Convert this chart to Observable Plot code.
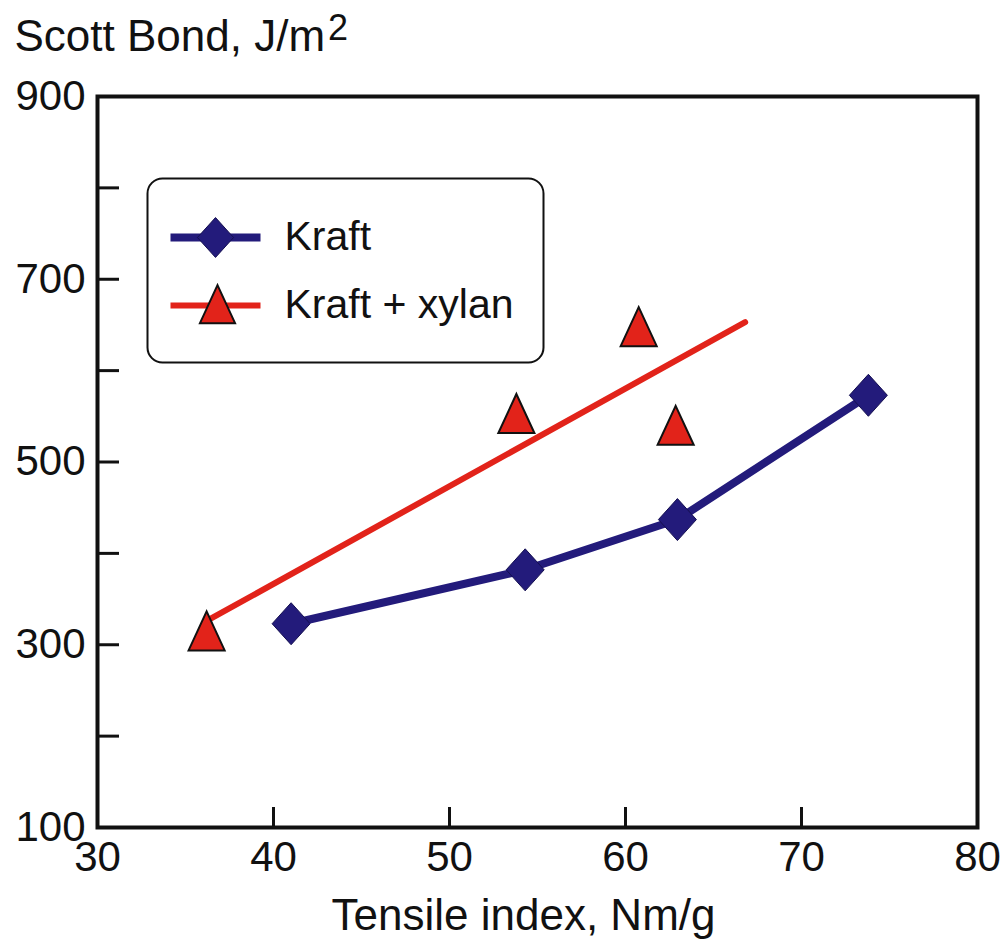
<!DOCTYPE html>
<html>
<head>
<meta charset="utf-8">
<script src="https://cdn.jsdelivr.net/npm/d3@7"></script>
<script src="https://cdn.jsdelivr.net/npm/@observablehq/plot@0.6"></script>
<style>
  html, body { margin: 0; padding: 0; background: #fff; }
  #chart svg { display: block; }
</style>
</head>
<body>
<div id="chart"></div>
<script>
// ---- data ----
const kraftTensile = [41.0, 54.3, 62.95, 73.8];
const kraftBond = [323, 382, 437, 573];
const xylanTensile = [36.2, 53.8, 60.75, 62.85];
const xylanBond = [308, 546, 641, 533];
const xylanFitTensile = [36.2, 66.8];
const xylanFitBond = [326, 653];
const xTicks = [30, 40, 50, 60, 70, 80];
const yTickMarks = [200, 300, 400, 500, 600, 700, 800];
const yTickLabels = [100, 300, 500, 700, 900];
const seriesNames = ["Kraft", "Kraft + xylan"];
const xTitle = "Tensile index, Nm/g";
const yTitle = "Scott Bond, J/m";
const yTitleSup = "2";

const kraft = kraftTensile.map((x, i) => ({x, y: kraftBond[i]}));
const xylan = xylanTensile.map((x, i) => ({x, y: xylanBond[i]}));
const xylanFit = xylanFitTensile.map((x, i) => ({x, y: xylanFitBond[i]}));

const navy = "#231b7b";
const red = "#e2231a";

// custom marker shapes
const diamondSym = {draw(ctx, size) {
  const r = Math.sqrt(size / Math.PI);
  const w = r * 0.95, h = r * 1.05;
  ctx.moveTo(0, -h); ctx.lineTo(w, 0); ctx.lineTo(0, h); ctx.lineTo(-w, 0); ctx.closePath();
}};
const triangleSym = {draw(ctx, size) {
  const r = Math.sqrt(size / Math.PI);
  const w = r * 0.925;
  ctx.moveTo(0, -r * 1.333); ctx.lineTo(w, r * 0.667); ctx.lineTo(-w, r * 0.667); ctx.closePath();
}};

const W = 1007, H = 947;
const mL = 97, mR = 30, mT = 96, mB = 120;
const fw = W - mL - mR, fh = H - mT - mB;

const chart = Plot.plot({
  width: W, height: H,
  marginLeft: mL, marginRight: mR, marginTop: mT, marginBottom: mB,
  style: {fontFamily: "'Liberation Sans', Arial, sans-serif", fontSize: "42px", color: "#111", background: "#fff"},
  x: {domain: [30, 80]},
  y: {domain: [100, 900]},
  marks: [
    // inward ticks
    Plot.tickY(yTickMarks, {y: d => d, insetRight: fw - 22, strokeWidth: 3, stroke: "#111"}),
    Plot.tickX(xTicks.slice(1, -1), {x: d => d, insetTop: fh - 20, strokeWidth: 3, stroke: "#111"}),
    Plot.axisX({ticks: xTicks, tickSize: 0, tickPadding: 14, fontSize: 42, label: null}),
    Plot.axisY({ticks: yTickLabels, tickSize: 0, tickPadding: 12, fontSize: 42, label: null}),
    // titles
    Plot.text([yTitle], {text: d => d, frameAnchor: "top-left", dx: -83, dy: -46, textAnchor: "start", lineAnchor: "bottom", fontSize: 44}),
    Plot.text([xTitle], {text: d => d, frameAnchor: "bottom", dx: -14, dy: 102, lineAnchor: "bottom", fontSize: 44}),
    // legend box
    Plot.frame({insetLeft: 50, insetRight: fw - 446, insetTop: 82, insetBottom: fh - 266, rx: 15, ry: 15, stroke: "#111", strokeWidth: 2, fill: "#fff"}),
    Plot.frame({insetLeft: 73, insetRight: fw - 163, insetTop: 137, insetBottom: fh - 145, fill: navy, stroke: null}),
    Plot.frame({insetLeft: 73, insetRight: fw - 163, insetTop: 206, insetBottom: fh - 212, fill: red, stroke: null}),
    Plot.dot([0], {frameAnchor: "top-left", dx: 118, dy: 141, symbol: diamondSym, r: 19, fill: navy, stroke: "#140f50", strokeWidth: 1}),
    Plot.dot([0], {frameAnchor: "top-left", dx: 120, dy: 214, symbol: triangleSym, r: 19, fill: red, stroke: "#111", strokeWidth: 2}),
    Plot.text([seriesNames[0]], {text: d => d, frameAnchor: "top-left", dx: 187, dy: 124, textAnchor: "start", fontSize: 41}),
    Plot.text([seriesNames[1]], {text: d => d, frameAnchor: "top-left", dx: 187, dy: 192, textAnchor: "start", fontSize: 41}),
    // data
    Plot.line(xylanFit, {x: "x", y: "y", stroke: red, strokeWidth: 6}),
    Plot.line(kraft, {x: "x", y: "y", stroke: navy, strokeWidth: 8}),
    Plot.dot(xylan, {x: "x", y: "y", symbol: triangleSym, r: 19.5, fill: red, stroke: "#111", strokeWidth: 2}),
    Plot.dot(kraft, {x: "x", y: "y", symbol: diamondSym, r: 20, fill: navy, stroke: "#140f50", strokeWidth: 1}),
    Plot.frame({strokeWidth: 4, stroke: "#111"})
  ]
});

// superscript on the y title
d3.select(chart).selectAll("text").each(function() {
  if (this.textContent === yTitle) {
    d3.select(this).append("tspan").attr("dy", "-0.3em").attr("dx", "3").attr("font-size", "36px").text(yTitleSup);
  }
});

document.getElementById("chart").appendChild(chart);
</script>
</body>
</html>
